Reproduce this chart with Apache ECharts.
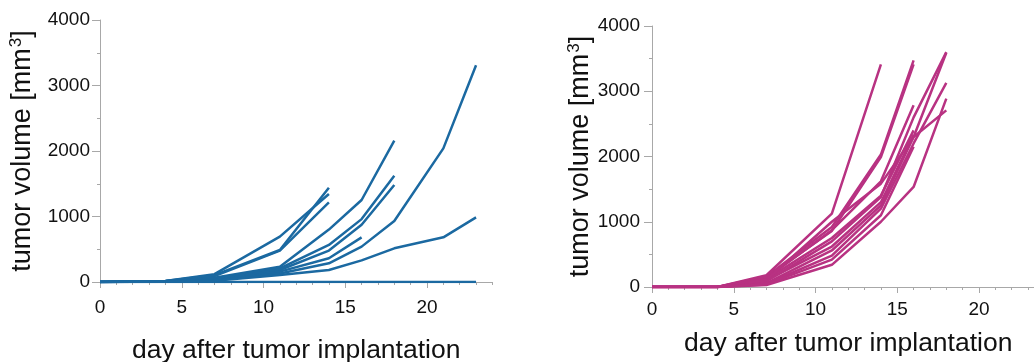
<!DOCTYPE html>
<html>
<head>
<meta charset="utf-8">
<script src="https://cdn.jsdelivr.net/npm/echarts@6/dist/echarts.min.js"></script>
<style>
  html, body { margin: 0; padding: 0; background: #fff; }
  #chart { width: 1034px; height: 362px; }
</style>
</head>
<body>
<div id="chart"></div>
<script>
// days of measurement
const leftDays = [0, 4, 7, 11, 14, 16, 18, 21, 23];
const rightDays = [0, 4, 7, 11, 14, 16, 18];

// left panel (blue) – tumor volume per mouse, mm3
const blue0 = [0, 0, 0, 0, 0, 0, 0, 0, 0];
const blue1 = [0, 15, 120, 692, 1344];
const blue2 = [0, 15, 105, 489, 1440];
const blue3 = [0, 12, 90, 480, 1216];
const blue4 = [0, 10, 65, 234, 800, 1252, 2158];
const blue5 = [0, 10, 55, 209, 565, 960, 1623];
const blue6 = [0, 8, 45, 183, 480, 875, 1481];
const blue7 = [0, 8, 35, 158, 362, 682];
const blue8 = [0, 6, 28, 130, 285, 540, 931, 2040, 3310];
const blue9 = [0, 5, 20, 107, 183, 330, 514, 682, 987];

// right panel (magenta)
const pink1 = [0, 0, 180, 1124, 3413];
const pink2 = [0, 0, 160, 920, 2030, 3474];
const pink3 = [0, 0, 150, 860, 1990, 3413];
const pink4 = [0, 0, 135, 870, 1620, 2785];
const pink5 = [0, 0, 120, 750, 1400, 2400];
const pink6 = [0, 0, 100, 620, 1300, 2330];
const pink7 = [0, 0, 110, 1000, 1584, 2300, 2707];
const pink8 = [0, 0, 90, 700, 1380, 2600, 3600];
const pink9 = [0, 0, 60, 560, 1250, 2300, 3590];
const pink10 = [0, 0, 50, 480, 1200, 2200, 3127];
const pink11 = [0, 0, 30, 340, 1000, 1533, 2887];
const pink12 = [0, 0, 40, 420, 1100, 2150];

const yTicks = [0, 1000, 2000, 3000, 4000];
const xLabels = [0, 5, 10, 15, 20];

const blueSeries = [blue0, blue1, blue2, blue3, blue4, blue5, blue6, blue7, blue8, blue9];
const pinkSeries = [pink1, pink2, pink3, pink4, pink5, pink6, pink7, pink8, pink9, pink10, pink11, pink12];

const FONT = 'Liberation Sans, Arial, Helvetica, sans-serif';
const AXIS_GREY = '#a8a8a8';
const BLUE = '#1b69a1';
const PINK = '#b83282';

const chart = echarts.init(document.getElementById('chart'), null, { renderer: 'canvas' });

const yName = 'tumor volume [mm{sup|3}]';
const nameRich = {
    sup: { fontSize: 17, fontFamily: FONT, color: '#111', verticalAlign: 'top', padding: [0, 0, 12, 1] }
};

// px per day is the same on both panels (~16.35); the right panel's axis runs off the canvas edge
const pxPerDay = 16.35;
const leftMax = 24, rightMax = 24;

function mainX(gridIndex, max, nameGap) {
    return {
        type: 'value', gridIndex: gridIndex, min: 0, max: max, interval: 1,
        splitLine: { show: false },
        axisLine: { show: true, lineStyle: { color: AXIS_GREY, width: 1 } },
        axisTick: { show: true, length: 3, lineStyle: { color: AXIS_GREY } },
        axisLabel: { show: false },
        name: 'day after tumor implantation',
        nameLocation: 'middle', nameGap: nameGap,
        nameTextStyle: { fontSize: 26.5, fontFamily: FONT, color: '#111' }
    };
}
function majorX(gridIndex, labelMargin) {
    return {
        type: 'value', gridIndex: gridIndex, min: 0, max: 20, interval: 5,
        splitLine: { show: false },
        axisLine: { show: false },
        axisTick: { show: true, length: 6, lineStyle: { color: AXIS_GREY } },
        axisLabel: { margin: labelMargin, fontSize: 19, fontFamily: FONT, color: '#111',
            formatter: v => xLabels.includes(v) ? String(v) : '' }
    };
}
function mainY(gridIndex, nameGap, labelMargin) {
    return {
        type: 'value', gridIndex: gridIndex, min: 0, max: 4000, interval: 1000,
        splitLine: { show: false },
        axisLine: { show: true, lineStyle: { color: AXIS_GREY, width: 1 } },
        axisTick: { show: true, length: 8, lineStyle: { color: AXIS_GREY } },
        minorTick: { show: true, splitNumber: 2, length: 3, lineStyle: { color: AXIS_GREY } },
        axisLabel: { margin: labelMargin, fontSize: 19, fontFamily: FONT, color: '#111',
            formatter: v => yTicks.includes(v) ? String(v) : '' },
        name: yName, nameLocation: 'middle', nameGap: nameGap, nameRotate: 90,
        nameTextStyle: { fontSize: 27, fontFamily: FONT, color: '#111', rich: nameRich }
    };
}
function hiddenY(gridIndex) {
    return { type: 'value', gridIndex: gridIndex, min: 0, max: 4000, show: false };
}

function lines(list, days, color, xi, yi) {
    return list.map((vals, i) => ({
        name: color + i,
        type: 'line',
        xAxisIndex: xi, yAxisIndex: yi,
        symbol: 'none',
        lineStyle: { color: color, width: 2.5 },
        data: vals.map((v, k) => [days[k], v]),
        z: 3
    }));
}

function grid(left, top, width, height) {
    return { left: left, top: top, width: width, height: height, outerBoundsMode: 'none', containLabel: false };
}

chart.setOption({
    animation: false,
    backgroundColor: '#fff',
    grid: [
        grid(100, 20, pxPerDay * leftMax, 262),
        grid(100, 20, pxPerDay * 20, 262),
        grid(652, 26, pxPerDay * rightMax, 261),
        grid(652, 26, pxPerDay * 20, 261)
    ],
    xAxis: [
        mainX(0, leftMax, 55),
        majorX(1, 16),
        mainX(2, rightMax, 43),
        majorX(3, 13)
    ],
    yAxis: [
        mainY(0, 63, 10),
        hiddenY(1),
        mainY(2, 57, 12),
        hiddenY(3)
    ],
    series: [].concat(
        lines(blueSeries, leftDays, BLUE, 0, 0),
        lines(pinkSeries, rightDays, PINK, 2, 2)
    )
});
</script>
</body>
</html>
